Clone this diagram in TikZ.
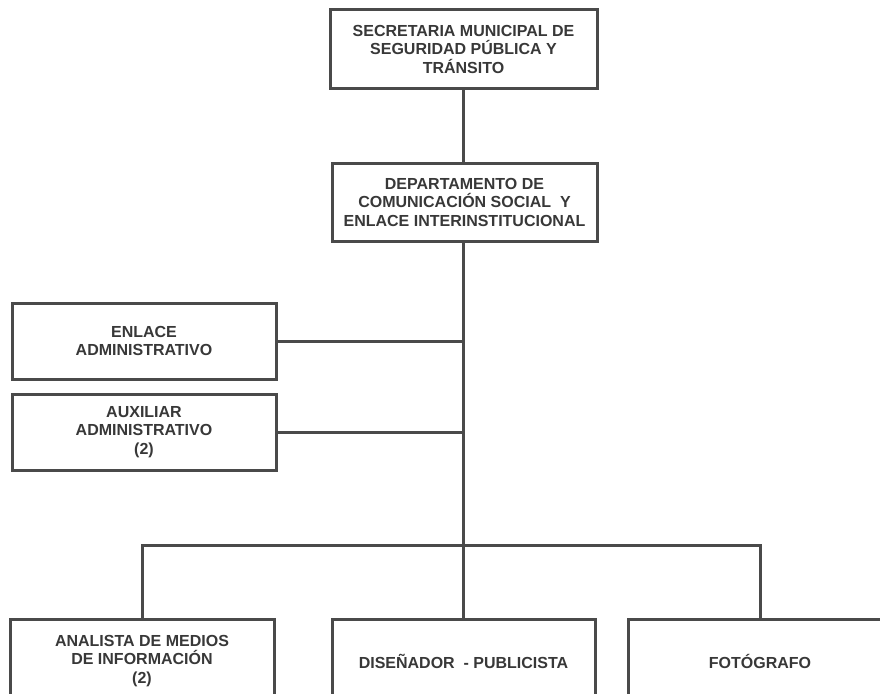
\documentclass[tikz,border=0pt]{standalone}
\usepackage{fontspec}
\setmainfont{Liberation Sans}
\begin{document}
\begin{tikzpicture}[x=1pt,y=-1pt,
  box/.style={draw=linegray, line width=3pt, fill=white, inner sep=0pt,
    align=center, text=textgray, font=\fontsize{16}{18.5}\selectfont\bfseries},
  conn/.style={draw=linegray, line width=3pt}]
\definecolor{linegray}{HTML}{4A4A4A}
\definecolor{textgray}{HTML}{383838}
\useasboundingbox (0,0) rectangle (880,693);
\clip (0,0) rectangle (880,693);
\fill[white] (0,0) rectangle (880,693);
% nodes
\node[box, minimum width=267pt, minimum height=78pt] (sec) at (463.5,49)
  {SECRETARIA MUNICIPAL DE\\SEGURIDAD PÚBLICA Y\\TRÁNSITO};
\node[box, minimum width=265pt, minimum height=78pt] (dep) at (464.5,202)
  {DEPARTAMENTO DE\\COMUNICACIÓN SOCIAL\ \ Y\\ENLACE INTERINSTITUCIONAL};
\node[box, minimum width=264pt, minimum height=76pt] (enl) at (144,341)
  {ENLACE\\ADMINISTRATIVO};
\node[box, minimum width=264pt, minimum height=76pt] (aux) at (144,432)
  {AUXILIAR\\ADMINISTRATIVO\\(2)};
\node[box, minimum width=264pt, minimum height=84pt] (ana) at (142,661)
  {ANALISTA DE MEDIOS\\DE INFORMACIÓN\\(2)};
\node[box, minimum width=263pt, minimum height=84pt] (dis) at (463.5,661)
  {DISEÑADOR\ \ - PUBLICISTA};
\node[box, minimum width=264pt, minimum height=84pt] (fot) at (760,661)
  {FOTÓGRAFO};
% bus coordinates
\coordinate (busc) at (463,545);
\coordinate (busl) at (ana.north |- busc);
\coordinate (busr) at (fot.north |- busc);
% connectors
\draw[conn] (sec.south -| busc) -- (dep.north -| busc);
\draw[conn] (dep.south -| busc) -- (busc);
\draw[conn] (enl.east) -- (enl.east -| busc);
\draw[conn] (aux.east) -- (aux.east -| busc);
\draw[conn, line cap=rect] (busl) -- (busr);
\draw[conn] (busl) -- (ana.north);
\draw[conn] (busc) -- (dis.north -| busc);
\draw[conn] (busr) -- (fot.north);
\end{tikzpicture}
\end{document}
